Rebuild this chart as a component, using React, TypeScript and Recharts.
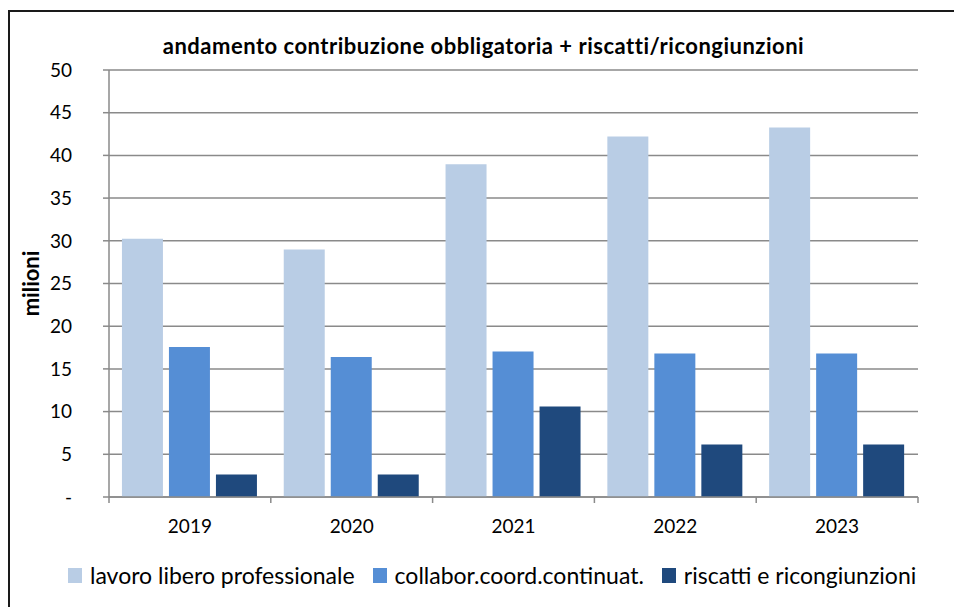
import React from 'react';
import { BarChart, Bar, XAxis, YAxis, CartesianGrid } from 'recharts';

const years = ['2019', '2020', '2021', '2022', '2023'];
const liberoProfessionale = [30.25, 28.97, 38.97, 42.2, 43.27];
const collaborCoordContinuat = [17.56, 16.4, 17.04, 16.8, 16.8];
const riscattiRicongiunzioni = [2.63, 2.63, 10.6, 6.15, 6.15];
const yTicks = [0, 5, 10, 15, 20, 25, 30, 35, 40, 45, 50];

const series = [
  { key: 'libero', name: 'lavoro libero professionale', color: '#B9CDE5' },
  { key: 'cococo', name: 'collabor.coord.continuat.', color: '#558ED5' },
  { key: 'riscatti', name: 'riscatti e ricongiunzioni', color: '#1F497D' },
];

const data = years.map((year, i) => ({
  year,
  libero: liberoProfessionale[i],
  cococo: collaborCoordContinuat[i],
  riscatti: riscattiRicongiunzioni[i],
}));

const FONT = 'Lato, "Open Sans", sans-serif';
const AXIS_GRAY = '#8a8a8a';

const YearTick = (props: any) => {
  const { x, y, payload, index, visibleTicksCount } = props;
  const half = payload && payload.offset ? payload.offset : 80.9;
  const isLast = index === visibleTicksCount - 1;
  return (
    <g>
      <line x1={x - half} y1={y} x2={x - half} y2={y + 6} stroke={AXIS_GRAY} strokeWidth={1.5} />
      {isLast && <line x1={x + half} y1={y} x2={x + half} y2={y + 6} stroke={AXIS_GRAY} strokeWidth={1.5} />}
      <text x={x} y={y + 36} textAnchor="middle" fill="#000" fontSize={19} fontFamily={FONT}>
        {payload.value}
      </text>
    </g>
  );
};

const App: React.FC = () => {
  return (
    <div style={{ position: 'absolute', left: 0, top: 0, width: 954, height: 607, background: '#fff', overflow: 'hidden', fontFamily: FONT }}>
      <div style={{ position: 'absolute', left: 8, top: 10, width: 980, height: 640, borderLeft: '2px solid #1a1a1a', borderTop: '2px solid #1a1a1a' }} />
      <div style={{ position: 'absolute', left: 0, top: 33, width: 967, textAlign: 'center', fontSize: 22, fontWeight: 700, lineHeight: '26px', letterSpacing: 0.5, color: '#000', whiteSpace: 'nowrap' }}>
        andamento contribuzione obbligatoria + riscatti/ricongiunzioni
      </div>
      <BarChart
        width={954}
        height={607}
        data={data}
        margin={{ top: 70, right: 36, bottom: 80, left: 0 }}
        barCategoryGap="8%"
        barGap={6}
        style={{ position: 'absolute', left: 0, top: 0 }}
      >
        <CartesianGrid vertical={false} stroke={AXIS_GRAY} strokeWidth={1.5} />
        <XAxis
          dataKey="year"
          height={30}
          tickLine={false}
          tickSize={0}
          tickMargin={0}
          axisLine={{ stroke: AXIS_GRAY, strokeWidth: 1.5 }}
          tick={<YearTick />}
          interval={0}
        />
        <YAxis
          width={109}
          domain={[0, 50]}
          ticks={yTicks}
          interval={0}
          tickSize={6}
          tickMargin={31}
          axisLine={{ stroke: AXIS_GRAY, strokeWidth: 1.5 }}
          tickLine={{ stroke: AXIS_GRAY, strokeWidth: 1.5 }}
          tick={{ fill: '#000', fontSize: 19, fontFamily: FONT }}
          tickFormatter={(v: number) => (v === 0 ? '-' : String(v))}
          label={{
            content: (p: any) => {
              const vb = p.viewBox || { x: 0, y: 70, width: 109, height: 427 };
              const cx = 30;
              const cy = vb.y + vb.height / 2;
              return (
                <text x={cx} y={cy} transform={`rotate(-90, ${cx}, ${cy})`} textAnchor="middle" dominantBaseline="central" fontSize={22} fontWeight={700} fontFamily={FONT} fill="#000">
                  milioni
                </text>
              );
            },
          }}
        />
        {series.map((s) => (
          <Bar key={s.key} dataKey={s.key} name={s.name} fill={s.color} isAnimationActive={false} />
        ))}
      </BarChart>
      <div style={{ position: 'absolute', left: 68, top: 561, display: 'flex', alignItems: 'center', fontSize: 23, lineHeight: '28px', color: '#000', whiteSpace: 'nowrap' }}>
        {series.map((s) => (
          <div key={s.key} style={{ display: 'flex', alignItems: 'center', marginRight: 18 }}>
            <span style={{ display: 'inline-block', width: 14, height: 15, background: s.color, marginRight: 8 }} />
            <span>{s.name}</span>
          </div>
        ))}
      </div>
    </div>
  );
};

export default App;
